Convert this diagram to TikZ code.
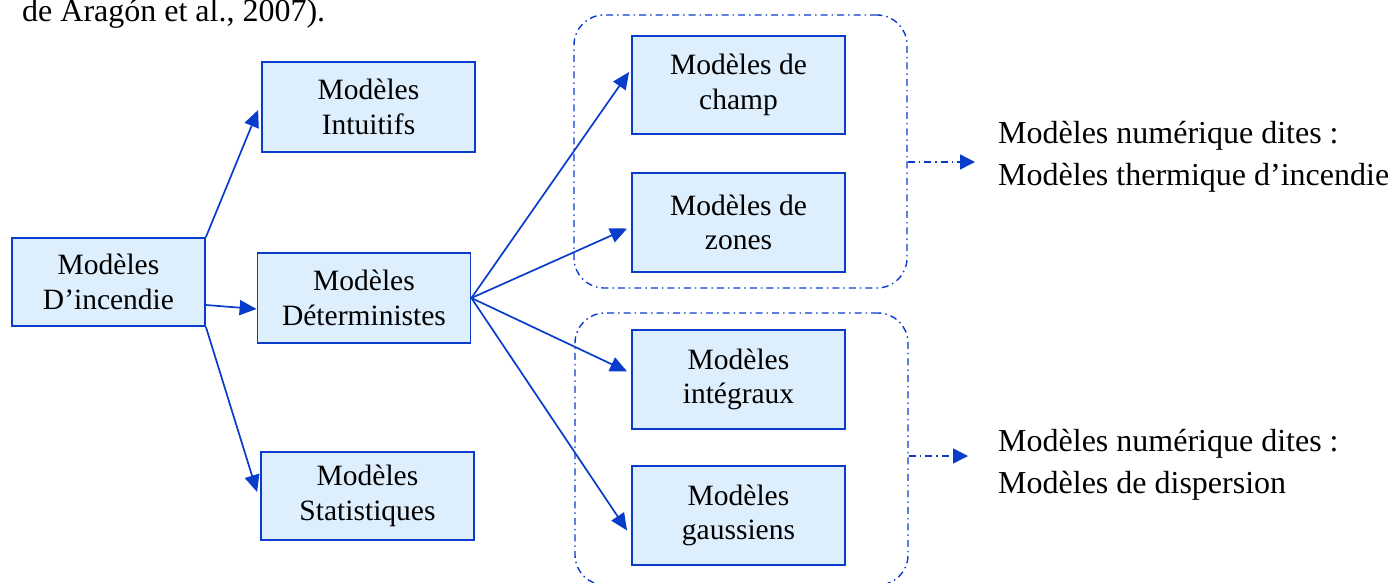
\documentclass[tikz,border=0pt]{standalone}
\usepackage{fontspec}
\setmainfont{Liberation Serif}
\usetikzlibrary{arrows.meta,positioning}
\definecolor{boxblue}{HTML}{0A3CCC}
\definecolor{boxfill}{HTML}{DDEEFD}
\begin{document}
\begin{tikzpicture}[x=1pt,y=-1pt,
  every node/.style={font=\fontsize{29.5}{34.5}\selectfont},
  model/.style={draw=boxblue,fill=boxfill,line width=1.8pt,align=center,
    minimum width=213pt,minimum height=90pt,inner sep=0pt},
  group/.style={draw=boxblue,line width=1.4pt,rounded corners=30pt,
    dash pattern=on 7pt off 4pt on 1.5pt off 4pt,
    minimum width=333pt,inner sep=0pt},
  link/.style={draw=boxblue,line width=1.7pt,-{Triangle[length=17pt,width=15pt]}},
  dlink/.style={draw=boxblue,line width=1.4pt,dash pattern=on 7pt off 4pt on 1.5pt off 4pt,
    -{Triangle[length=15pt,width=15pt]}},
  note/.style={anchor=west,align=left,inner sep=0pt,font=\fontsize{32}{42}\selectfont}]
\useasboundingbox (0,0) rectangle (1399,583);

% heading fragment
\node[anchor=base west,inner sep=0pt,font=\fontsize{32}{40}\selectfont] (cite) at (22,22) {de Aragón et al., 2007).};

% dashed groups
\node[group,minimum height=273pt] (grp1) at (740.5,151.5) {};
\node[group,minimum height=272pt] (grp2) at (741.5,449) {};

% model boxes
\node[model,minimum width=193pt,minimum height=88pt] (inc) at (108.5,282) {Modèles\\D’incendie};
\node[model] (intu) at (368.5,107) {Modèles\\Intuitifs};
\node[model] (det) at (364,298) {Modèles\\Déterministes};
\node[model,minimum height=88pt] (stat) at (367.5,496) {Modèles\\Statistiques};
\node[model,minimum height=98pt] (champ) at (738.5,85) {Modèles de\\champ};
\node[model,minimum height=99pt] (zones) at (738.5,222.5) {Modèles de\\zones};
\node[model,minimum height=99pt] (integ) at (738.5,379.5) {Modèles\\intégraux};
\node[model,minimum height=99pt] (gauss) at (738.5,515.5) {Modèles\\gaussiens};

% first level
\draw[link] (inc.north east) -- ([xshift=-3pt,yshift=-3pt]intu.west);
\draw[link] ([yshift=-23pt]inc.east) -- ([yshift=-11pt]det.west);
\draw[link] (inc.south east) -- ([xshift=-3pt,yshift=4pt]stat.west);

% second level
\draw[link] (det.east) -- ([xshift=-2pt,yshift=13pt]champ.west);
\draw[link] (det.east) -- ([xshift=-4pt,yshift=-6pt]zones.west);
\draw[link] (det.east) -- ([xshift=-4pt,yshift=8pt]integ.west);
\draw[link] (det.east) -- ([xshift=-4pt,yshift=-15pt]gauss.west);

% outcomes
\coordinate (t1) at (975,162);
\coordinate (t2) at (968,456);
\draw[dlink] ([yshift=-10.5pt]grp1.east) -- (t1);
\draw[dlink] ([yshift=-7pt]grp2.east) -- (t2);

\node[note] (n1) at (998,157) {Modèles numérique dites :\\Modèles thermique d’incendie};
\node[note] (n2) at (998,464.5) {Modèles numérique dites :\\Modèles de dispersion};
\end{tikzpicture}
\end{document}
